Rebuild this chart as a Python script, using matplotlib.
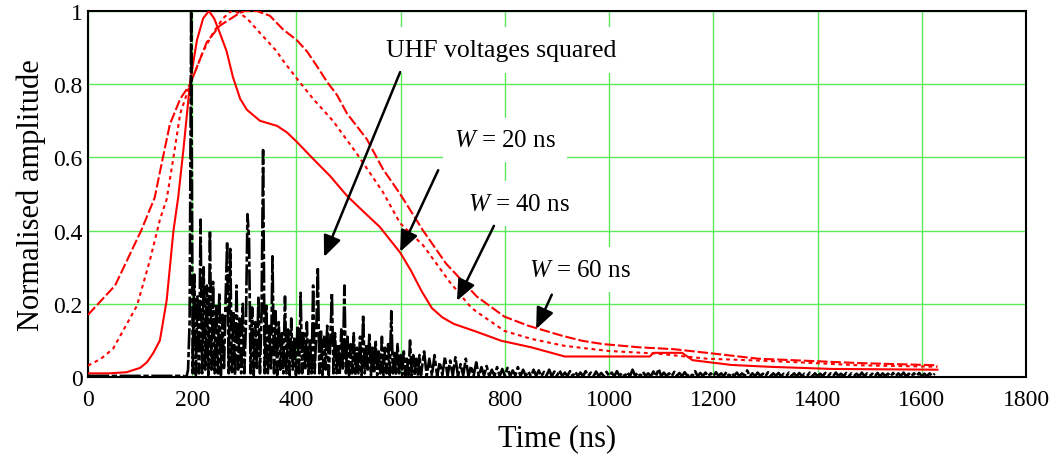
import numpy as np
import matplotlib
matplotlib.use("Agg")
import matplotlib.pyplot as plt

plt.rcParams['font.family'] = ['Liberation Serif', 'DejaVu Serif']
plt.rcParams['mathtext.fontset'] = 'custom'
plt.rcParams['mathtext.rm'] = 'Liberation Serif'
plt.rcParams['mathtext.it'] = 'Liberation Serif:italic'

# ---------------- data ----------------
x_ticks = [0, 200, 400, 600, 800, 1000, 1200, 1400, 1600, 1800]
y_ticks = [0, 0.2, 0.4, 0.6, 0.8, 1.0]
y_tick_labels = ['0', '0.2', '0.4', '0.6', '0.8', '1']

w20_t = [0, 40, 74, 100, 113, 125, 138, 151, 164, 173, 183, 196, 209, 221, 232, 242,
         253, 266, 278, 292, 305, 330, 363, 382, 401, 432, 464, 497, 530, 560, 599, 620,
         640, 660, 680, 702, 741, 793, 851, 915, 1078, 1085, 1140, 1160, 1234, 1305, 1428, 1630]
w20_v = [0.01, 0.01, 0.013, 0.025, 0.04, 0.065, 0.10, 0.21, 0.40, 0.49, 0.62, 0.806, 0.92,
         0.98, 1.0, 0.98, 0.94, 0.89, 0.82, 0.76, 0.73, 0.70, 0.686, 0.668, 0.642, 0.596,
         0.55, 0.495, 0.45, 0.41, 0.34, 0.29, 0.235, 0.188, 0.163, 0.145, 0.126, 0.099,
         0.081, 0.056, 0.056, 0.066, 0.066, 0.046, 0.033, 0.028, 0.022, 0.02]

w40_t = [0, 25, 48, 94, 119, 138, 151, 164, 177, 196, 221, 240, 259, 275, 290, 305, 330,
         343, 362, 374, 401, 432, 451, 470, 516, 566, 599, 643, 694, 735, 746, 799, 851,
         915, 1000, 1091, 1188, 1286, 1351, 1480, 1630]
w40_v = [0.031, 0.05, 0.077, 0.195, 0.32, 0.43, 0.486, 0.60, 0.72, 0.80, 0.89, 0.94, 0.98,
         1.0, 0.995, 0.98, 0.94, 0.92, 0.89, 0.865, 0.815, 0.76, 0.73, 0.70, 0.61, 0.505,
         0.42, 0.36, 0.26, 0.19, 0.178, 0.126, 0.104, 0.085, 0.071, 0.064, 0.05, 0.045,
         0.041, 0.032, 0.028]

w60_t = [0, 52, 102, 128, 138, 157, 177, 196, 228, 253, 286, 300, 324, 349, 374, 401, 420,
         439, 459, 478, 497, 535, 566, 599, 643, 687, 746, 799, 845, 909, 948, 988, 1059,
         1124, 1188, 1286, 1384, 1480, 1630]
w60_v = [0.17, 0.25, 0.40, 0.49, 0.56, 0.69, 0.76, 0.80, 0.915, 0.96, 0.99, 1.0, 1.0, 0.987,
         0.95, 0.92, 0.89, 0.85, 0.806, 0.77, 0.72, 0.65, 0.568, 0.50, 0.40, 0.31, 0.22,
         0.165, 0.14, 0.113, 0.099, 0.09, 0.081, 0.076, 0.066, 0.05, 0.044, 0.038, 0.032]

# UHF voltage squared: quiet part, dense part (3 ns samples), tail (5 ns samples)
uhf_pre_t = [0, 100, 183]
uhf_pre_v = [0.003, 0.003, 0.003]
uhf_dense_t0, uhf_dense_dt = 186, 3
uhf_dense_v = [
    0.0, 0.0, 0.02, 0.15, 1.0, 0.01, 0.28, 0.005, 0.22, 0.01,
    0.43, 0.01, 0.30, 0.02, 0.25, 0.005, 0.40, 0.02, 0.26, 0.01,
    0.20, 0.01, 0.23, 0.005, 0.17, 0.02, 0.21, 0.37, 0.01, 0.35,
    0.01, 0.18, 0.005, 0.25, 0.02, 0.16, 0.01, 0.20, 0.01, 0.14,
    0.445, 0.38, 0.01, 0.19, 0.005, 0.15, 0.02, 0.22, 0.01, 0.17,
    0.62, 0.01, 0.20, 0.005, 0.14, 0.02, 0.33, 0.01, 0.18, 0.005,
    0.15, 0.02, 0.12, 0.01, 0.22, 0.01, 0.13, 0.005, 0.16, 0.02,
    0.11, 0.005, 0.14, 0.01, 0.23, 0.01, 0.12, 0.02, 0.15, 0.005,
    0.10, 0.01, 0.25, 0.01, 0.12, 0.30, 0.01, 0.13, 0.005, 0.11,
    0.02, 0.14, 0.005, 0.10, 0.23, 0.01, 0.12, 0.01, 0.09, 0.005,
    0.13, 0.02, 0.25, 0.01, 0.11, 0.005, 0.09, 0.01, 0.12, 0.005,
    0.08, 0.01, 0.11, 0.005, 0.17, 0.01, 0.09, 0.02, 0.12, 0.005,
    0.08, 0.01, 0.10, 0.005, 0.07, 0.01, 0.11, 0.005, 0.08, 0.01,
    0.09, 0.005, 0.18, 0.01, 0.07, 0.005, 0.09, 0.01, 0.06, 0.005,
    0.07, 0.003, 0.05, 0.005, 0.10, 0.003, 0.06, 0.005, 0.05, 0.003,
    0.06, 0.005]
uhf_tail_t0, uhf_tail_dt = 645, 5
uhf_tail_v = [
    0.07, 0.003, 0.05, 0.004, 0.06, 0.002, 0.04, 0.005, 0.055, 0.002,
    0.045, 0.003, 0.054, 0.002, 0.035, 0.004, 0.05, 0.002, 0.03, 0.003,
    0.04, 0.002, 0.027, 0.004, 0.03, 0.002, 0.02, 0.003, 0.027, 0.002,
    0.022, 0.003, 0.025, 0.002, 0.018, 0.004, 0.027, 0.002, 0.02, 0.003,
    0.015, 0.002, 0.02, 0.003, 0.018, 0.002, 0.014, 0.004, 0.02, 0.002,
    0.015, 0.003, 0.018, 0.002, 0.012, 0.003, 0.016, 0.002, 0.014, 0.003,
    0.012, 0.002, 0.016, 0.003, 0.012, 0.002, 0.015, 0.003, 0.011, 0.002,
    0.014, 0.003, 0.012, 0.002, 0.016, 0.003, 0.011, 0.002, 0.013, 0.002,
    0.02, 0.003, 0.012, 0.002, 0.014, 0.003, 0.01, 0.002, 0.015, 0.002,
    0.022, 0.002, 0.012, 0.003, 0.01, 0.002, 0.014, 0.003, 0.011, 0.002,
    0.013, 0.003, 0.01, 0.002, 0.016, 0.002, 0.011, 0.003, 0.012, 0.002,
    0.01, 0.002, 0.013, 0.003, 0.01, 0.002, 0.014, 0.002, 0.011, 0.003,
    0.012, 0.002, 0.01, 0.003, 0.018, 0.002, 0.01, 0.002, 0.012, 0.003,
    0.009, 0.002, 0.013, 0.002, 0.01, 0.003, 0.011, 0.002, 0.009, 0.002,
    0.012, 0.003, 0.01, 0.002, 0.011, 0.002, 0.009, 0.003, 0.012, 0.002,
    0.01, 0.002, 0.009, 0.003, 0.011, 0.002, 0.01, 0.002, 0.012, 0.003,
    0.009, 0.002, 0.011, 0.002, 0.01, 0.003, 0.009, 0.002, 0.012, 0.002,
    0.01, 0.003, 0.009, 0.002, 0.011, 0.002, 0.01, 0.003, 0.009, 0.002,
    0.011, 0.002, 0.01, 0.003, 0.012, 0.002, 0.009, 0.002, 0.01, 0.003,
    0.011, 0.002, 0.009, 0.002, 0.01, 0.003, 0.009]

# ---------------- figure ----------------
W, H = 1061, 464
fig = plt.figure(figsize=(W / 100, H / 100), dpi=100)
ax = fig.add_axes([88 / W, 86 / H, 938 / W, 366 / H])

grid_col = '#5ce85c'
ax.set_xlim(0, 1800)
ax.set_ylim(0, 1)
ax.set_xticks(x_ticks)
ax.set_yticks(y_ticks)
ax.set_yticklabels(y_tick_labels)
ax.grid(True, color=grid_col, lw=1.0)
ax.set_axisbelow(True)
ax.tick_params(axis='both', length=0, labelsize=17)
ax.tick_params(axis='x', pad=9)
ax.tick_params(axis='y', pad=4)
for s in ax.spines.values():
    s.set_color('black')
    s.set_linewidth(1.5)

ax.set_xlabel('Time (ns)', fontsize=22)
ax.set_ylabel('Normalised amplitude', fontsize=22)
ax.xaxis.set_label_coords(0.5, -0.125)
ax.yaxis.set_label_coords(-0.045, 0.5)

red = '#ff0000'
ax.plot(w20_t, w20_v, color=red, lw=1.5, zorder=3)
ax.plot(w40_t, w40_v, color=red, lw=1.5, dashes=(1.8, 1.8), zorder=3)
ax.plot(w60_t, w60_v, color=red, lw=1.5, dashes=(5, 1.4), zorder=3)

uhf_t = np.concatenate([
    uhf_pre_t,
    uhf_dense_t0 + uhf_dense_dt * np.arange(len(uhf_dense_v)),
    uhf_tail_t0 + uhf_tail_dt * np.arange(len(uhf_tail_v)),
])
uhf_v = np.concatenate([uhf_pre_v, uhf_dense_v, uhf_tail_v])
ax.plot(uhf_t, uhf_v, color='black', lw=1.9, ls=(0, (8, 1, 2, 1)), zorder=4)

# ---------------- annotations ----------------
box = dict(facecolor='white', edgecolor='none', boxstyle='square,pad=0.45')
arrow = dict(arrowstyle='-|>,head_length=0.8,head_width=0.34', color='black',
             lw=1.8, shrinkA=0, shrinkB=0, mutation_scale=16)

ax.text(793, 0.877, 'UHF voltages squared', fontsize=18.5, ha='center', va='baseline',
        bbox=box, zorder=5)
ax.annotate('', xy=(453, 0.328), xytext=(599, 0.833), arrowprops=arrow, zorder=6)

ax.text(800, 0.631, '$W$ = 20 ns', fontsize=18, ha='center', va='baseline', bbox=box, zorder=5)
ax.annotate('', xy=(599, 0.342), xytext=(672, 0.565), arrowprops=arrow, zorder=6)

ax.text(827, 0.457, '$W$ = 40 ns', fontsize=18, ha='center', va='baseline', bbox=box, zorder=5)
ax.annotate('', xy=(708, 0.208), xytext=(779, 0.413), arrowprops=arrow, zorder=6)

ax.text(945, 0.277, '$W$ = 60 ns', fontsize=18, ha='center', va='baseline', bbox=box, zorder=5)
ax.annotate('', xy=(860, 0.131), xytext=(890, 0.225), arrowprops=arrow, zorder=6)

fig.savefig('out.png', dpi=100)
